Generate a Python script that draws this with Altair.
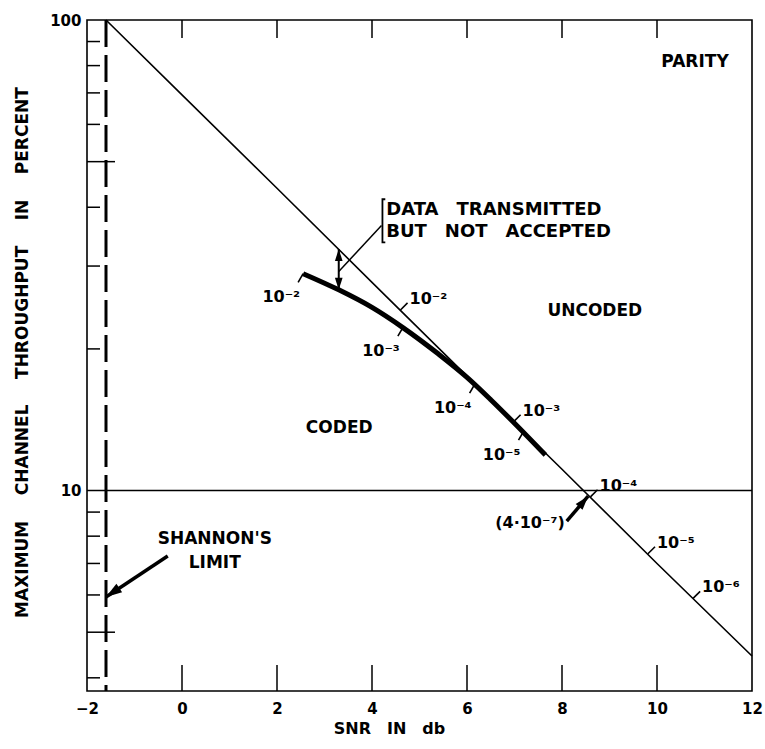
import altair as alt
import pandas as pd

FONT = "DejaVu Sans"
INK = "#000000"

# Uncoded (parity check) channel throughput, percent vs SNR in dB
uncoded_snr = [-1.6, 0, 2, 4, 6, 8, 10, 12]
uncoded_pct = [100, 69.3, 43.9, 27.7, 17.5, 11.1, 7.0, 4.45]

# Coded channel throughput
coded_snr = [2.55, 3.3, 4.0, 4.65, 5.4, 6.0, 6.5, 7.0, 7.65]
coded_pct = [28.9, 26.7, 24.5, 22.2, 19.5, 17.4, 15.6, 13.9, 11.9]

# Error-probability marks along the uncoded line
uncoded_err_snr = [4.6, 6.98, 8.6, 9.81, 10.76]
uncoded_err_pct = [24.2, 14.0, 9.7, 7.34, 5.9]
uncoded_err_txt = ["10⁻²", "10⁻³", "10⁻⁴", "10⁻⁵", "10⁻⁶"]

# Error-probability marks along the coded curve
coded_err_snr = [2.55, 4.65, 6.16, 7.19]
coded_err_pct = [28.9, 22.2, 16.8, 13.35]
coded_err_txt = ["10⁻²", "10⁻³", "10⁻⁴", "10⁻⁵"]

shannon_limit_db = [-1.6]
reference_pct = [10]

x_label_values = [-2, 0, 2, 4, 6, 8, 10, 12]
x_tick_values = [0, 2, 4, 6, 8, 10]
y_label_values = [10, 100]
y_minor_ticks = [4, 6, 7, 8, 9, 20, 30, 40, 60, 70, 80, 90]
y_major_ticks = [5, 50]

# Region captions
region_txt = ["PARITY", "UNCODED", "CODED", "SHANNON'S", "LIMIT"]
region_snr = [10.8, 8.69, 3.31, 0.69, 0.69]
region_pct = [81.4, 24.1, 13.6, 7.9, 7.0]

note_txt = ["DATA\u2003TRANSMITTED", "BUT\u2003NOT\u2003ACCEPTED"]
note_snr = [4.3, 4.3]
note_pct = [39.4, 35.4]

# Arrows, listed as [tail, tip]
shannon_arrow_snr = [-0.3, -1.6]
shannon_arrow_pct = [7.26, 5.94]
crossing_arrow_snr = [8.1, 8.55]
crossing_arrow_pct = [8.61, 9.73]
crossing_txt = ["(4·10⁻⁷)"]

# Double arrow spanning the gap between the two curves, and its leader to the note
gap_arrow_snr = [3.3, 3.3]
gap_arrow_pct = [32.6, 26.7]
leader_snr = [3.3, 4.2]
leader_pct = [29.2, 36.6]
bracket_snr = [4.28, 4.22, 4.22, 4.28]
bracket_pct = [41.6, 41.6, 33.7, 33.7]

W, H = 665, 671
HEAD = "M0,0L-0.32,1L0.32,1Z"

x_scale = alt.Scale(domain=[-2, 12], nice=False, zero=False)
y_scale = alt.Scale(type="log", domain=[3.75, 100], nice=False)

x_axis = alt.Axis(
    values=x_label_values, format="d", ticks=False, domain=False, grid=False,
    labelFont=FONT, labelFontSize=15, labelFontWeight="bold", labelColor=INK,
    labelPadding=10, labelFlush=False, labelOverlap=False,
    title="SNR\u2003IN\u2003db", titleFont=FONT, titleFontSize=16,
    titleFontWeight="bold", titleColor=INK, titleX=302, titleY=37,
    titleAlign="center", titleBaseline="middle",
)
y_axis = alt.Axis(
    values=y_label_values, format="d", ticks=False, domain=False, grid=False,
    labelFont=FONT, labelFontSize=15, labelFontWeight="bold", labelColor=INK,
    labelPadding=6, labelFlush=False, labelOverlap=False,
    title="MAXIMUM\u2003\u2002CHANNEL\u2003\u2002THROUGHPUT\u2003\u2002IN\u2003\u2002PERCENT",
    titleFont=FONT, titleFontSize=17, titleFontWeight="bold", titleColor=INK,
    titleX=-65, titleY=332, titleAngle=270, titleAlign="center",
    titleBaseline="middle",
)


def X():
    return alt.X("snr:Q", scale=x_scale, axis=x_axis)


def Y():
    return alt.Y("pct:Q", scale=y_scale, axis=y_axis)


def frame(snr, pct, **extra):
    d = {"snr": snr, "pct": pct}
    d.update(extra)
    return pd.DataFrame(d)


uncoded_line = alt.Chart(frame(uncoded_snr, uncoded_pct)).mark_line(
    color=INK, strokeWidth=1.6
).encode(x=X(), y=Y())

coded_line = alt.Chart(frame(coded_snr, coded_pct)).mark_line(
    color=INK, strokeWidth=5, interpolate="monotone", strokeCap="butt"
).encode(x=X(), y=Y())

shannon_rule = alt.Chart(pd.DataFrame({"snr": shannon_limit_db})).mark_rule(
    color=INK, strokeWidth=3, strokeDash=[27, 8]
).encode(x=X())

ten_rule = alt.Chart(pd.DataFrame({"pct": reference_pct})).mark_rule(
    color=INK, strokeWidth=1.5
).encode(y=Y())

# Inward-pointing frame ticks
bottom_ticks = alt.Chart(pd.DataFrame({"snr": x_tick_values})).mark_tick(
    orient="vertical", size=26, thickness=1.5, color=INK, opacity=1
).encode(x=X(), y=alt.value(H - 13))
top_ticks = alt.Chart(pd.DataFrame({"snr": x_tick_values})).mark_tick(
    orient="vertical", size=18, thickness=1.5, color=INK, opacity=1
).encode(x=X(), y=alt.value(9))
left_minor = alt.Chart(pd.DataFrame({"pct": y_minor_ticks})).mark_tick(
    orient="horizontal", size=13, thickness=1.5, color=INK, opacity=1
).encode(y=Y(), x=alt.value(6.5))
left_major = alt.Chart(pd.DataFrame({"pct": y_major_ticks})).mark_tick(
    orient="horizontal", size=28, thickness=1.5, color=INK, opacity=1
).encode(y=Y(), x=alt.value(14))

# Error-rate ticks and labels along the curves
unc_err = frame(uncoded_err_snr, uncoded_err_pct, t=uncoded_err_txt)
unc_err_ticks = alt.Chart(unc_err).mark_point(
    shape="stroke", size=100, angle=135, strokeWidth=1.6, color=INK,
    filled=False, opacity=1, xOffset=3.5, yOffset=-3.5
).encode(x=X(), y=Y())
unc_err_text = alt.Chart(unc_err).mark_text(
    font=FONT, fontSize=16, fontWeight="bold", color=INK, align="left",
    baseline="middle", dx=9, dy=-11
).encode(x=X(), y=Y(), text="t:N")

cod_err = frame(coded_err_snr, coded_err_pct, t=coded_err_txt)
cod_err_ticks = alt.Chart(cod_err).mark_point(
    shape="stroke", size=100, angle=120, strokeWidth=1.6, color=INK,
    filled=False, opacity=1, xOffset=-2.5, yOffset=4.3
).encode(x=X(), y=Y())
cod_err_text = alt.Chart(cod_err).mark_text(
    font=FONT, fontSize=16, fontWeight="bold", color=INK, align="right",
    baseline="middle", dx=-3, dy=23
).encode(x=X(), y=Y(), text="t:N")

regions = alt.Chart(frame(region_snr, region_pct, t=region_txt)).mark_text(
    font=FONT, fontSize=17, fontWeight="bold", color=INK, align="center",
    baseline="middle"
).encode(x=X(), y=Y(), text="t:N")

notes = alt.Chart(frame(note_snr, note_pct, t=note_txt)).mark_text(
    font=FONT, fontSize=18, fontWeight="bold", color=INK, align="left",
    baseline="middle"
).encode(x=X(), y=Y(), text="t:N")


def shaft(snr, pct, width):
    df = pd.DataFrame({"snr": [snr[0]], "pct": [pct[0]],
                       "snr2": [snr[1]], "pct2": [pct[1]]})
    return alt.Chart(df).mark_rule(color=INK, strokeWidth=width).encode(
        x=X(), y=Y(), x2="snr2:Q", y2="pct2:Q"
    )


def head(snr, pct, angle, size):
    return alt.Chart(frame([snr], [pct])).mark_point(
        shape=HEAD, filled=True, color=INK, opacity=1, size=size,
        angle=angle, strokeWidth=0
    ).encode(x=X(), y=Y())


def path(snr, pct, width):
    return alt.Chart(frame(snr, pct, i=list(range(len(snr))))).mark_line(
        color=INK, strokeWidth=width
    ).encode(x=X(), y=Y(), order="i:Q")


crossing_text = alt.Chart(
    frame([crossing_arrow_snr[0]], [crossing_arrow_pct[0]], t=crossing_txt)
).mark_text(
    font=FONT, fontSize=16, fontWeight="bold", color=INK, align="right",
    baseline="middle", dx=-2, dy=2
).encode(x=X(), y=Y(), text="t:N")

layers = [
    uncoded_line, ten_rule, shannon_rule, coded_line,
    bottom_ticks, top_ticks, left_minor, left_major,
    unc_err_ticks, unc_err_text, cod_err_ticks, cod_err_text,
    regions, notes, crossing_text,
    shaft(shannon_arrow_snr, shannon_arrow_pct, 3.5),
    head(shannon_arrow_snr[1], shannon_arrow_pct[1], 236, 1024),
    shaft(crossing_arrow_snr, crossing_arrow_pct, 3.5),
    head(crossing_arrow_snr[1], crossing_arrow_pct[1], 40, 784),
    path(gap_arrow_snr, gap_arrow_pct, 2),
    head(gap_arrow_snr[0], gap_arrow_pct[0], 0, 576),
    head(gap_arrow_snr[1], gap_arrow_pct[1], 180, 576),
    path(leader_snr, leader_pct, 1.5),
    path(bracket_snr, bracket_pct, 1.8),
]

chart = alt.layer(*layers).properties(
    width=W, height=H,
    padding={"left": 87, "top": 20, "right": 13, "bottom": 58},
    autosize=alt.AutoSizeParams(type="none"),
    background="white",
).configure_view(stroke=INK, strokeWidth=1.6)

chart.save("out.html", embed_options={"renderer": "svg", "actions": False})
